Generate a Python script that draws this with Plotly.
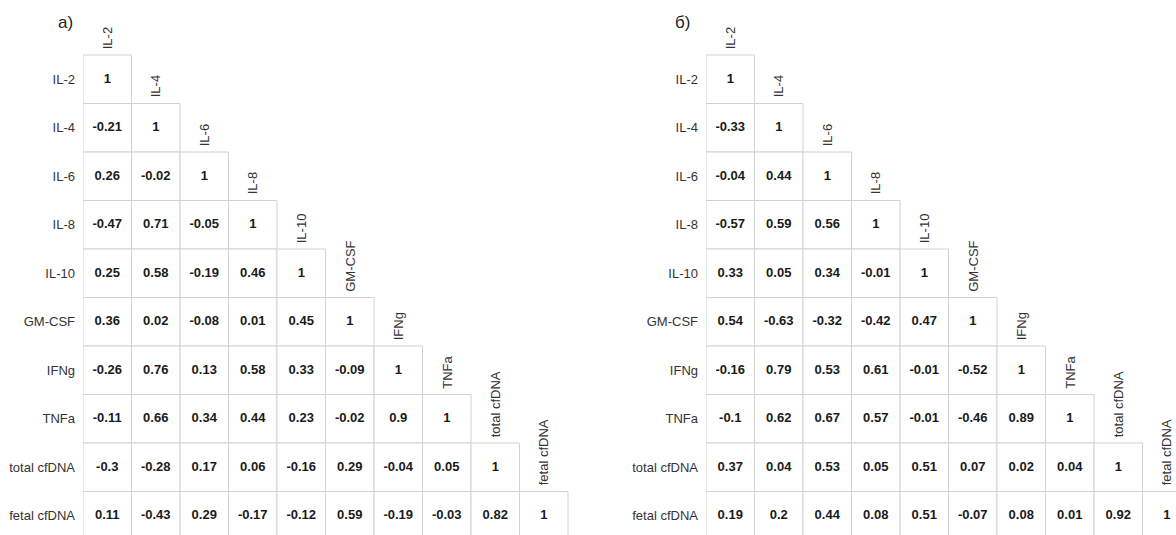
import plotly.graph_objects as go

labels = ["IL-2", "IL-4", "IL-6", "IL-8", "IL-10", "GM-CSF", "IFNg", "TNFa",
          "total cfDNA", "fetal cfDNA"]

corr_a = [
    [1],
    [-0.21, 1],
    [0.26, -0.02, 1],
    [-0.47, 0.71, -0.05, 1],
    [0.25, 0.58, -0.19, 0.46, 1],
    [0.36, 0.02, -0.08, 0.01, 0.45, 1],
    [-0.26, 0.76, 0.13, 0.58, 0.33, -0.09, 1],
    [-0.11, 0.66, 0.34, 0.44, 0.23, -0.02, 0.9, 1],
    [-0.3, -0.28, 0.17, 0.06, -0.16, 0.29, -0.04, 0.05, 1],
    [0.11, -0.43, 0.29, -0.17, -0.12, 0.59, -0.19, -0.03, 0.82, 1],
]

corr_b = [
    [1],
    [-0.33, 1],
    [-0.04, 0.44, 1],
    [-0.57, 0.59, 0.56, 1],
    [0.33, 0.05, 0.34, -0.01, 1],
    [0.54, -0.63, -0.32, -0.42, 0.47, 1],
    [-0.16, 0.79, 0.53, 0.61, -0.01, -0.52, 1],
    [-0.1, 0.62, 0.67, 0.57, -0.01, -0.46, 0.89, 1],
    [0.37, 0.04, 0.53, 0.05, 0.51, 0.07, 0.02, 0.04, 1],
    [0.19, 0.2, 0.44, 0.08, 0.51, -0.07, 0.08, 0.01, 0.92, 1],
]

panel_titles = ["а)", "б)"]

W, H = 1176, 535
CELL = 48.5
TOP = 55.0
LEFT_A = 83.0
LEFT_B = 706.0
FONT = "Liberation Sans, Arial, sans-serif"
GRID = "#d2d2d2"

fig = go.Figure()

def y_range():
    top = -0.5 - TOP / CELL
    bot = -0.5 + (H - TOP) / CELL
    return [bot, top]

def add_panel(corr, xa, ya, left_px, right_px, title, title_x):
    xname = "x" if xa == "xaxis" else "x2"
    yname = "y" if ya == "yaxis" else "y2"
    xs, ys, ts = [], [], []
    for i, row in enumerate(corr):
        for j, v in enumerate(row):
            xs.append(j)
            ys.append(i)
            ts.append(f"{v:g}")
            fig.add_shape(type="rect", xref=xname, yref=yname,
                          x0=j - 0.5, x1=j + 0.5, y0=i - 0.5, y1=i + 0.5,
                          line=dict(color=GRID, width=1), fillcolor="white",
                          layer="below")
    fig.add_trace(go.Scatter(x=xs, y=ys, text=ts, mode="text", xaxis=xname, yaxis=yname,
                             textfont=dict(family=FONT, size=13, color="#1a1a1a", weight="bold"),
                             hoverinfo="skip", showlegend=False, cliponaxis=False))
    for j, lab in enumerate(labels):
        fig.add_annotation(x=j, y=j - 0.5, xref=xname, yref=yname, text=lab,
                           textangle=-90, showarrow=False, xanchor="center",
                           yanchor="bottom", yshift=4,
                           font=dict(family=FONT, size=13, color="#333"))
    fig.add_annotation(x=title_x / W, y=1 - 22 / H, xref="paper", yref="paper",
                       text=title, showarrow=False, xanchor="center", yanchor="middle",
                       font=dict(family=FONT, size=17, color="#222"))
    x_right = -0.5 + (right_px - left_px) / CELL
    fig.update_layout(**{
        xa: dict(domain=[left_px / W, right_px / W], range=[-0.5, x_right],
                 showgrid=False, zeroline=False, showticklabels=False, ticks="",
                 anchor=yname, fixedrange=True),
        ya: dict(domain=[0, 1], range=y_range(), showgrid=False, zeroline=False,
                 tickmode="array", tickvals=list(range(len(labels))), ticktext=labels,
                 ticks="", ticklabelstandoff=7, anchor=xname,
                 tickfont=dict(family=FONT, size=13, color="#333"), fixedrange=True),
    })

add_panel(corr_a, "xaxis", "yaxis", LEFT_A, 610.0, panel_titles[0], 65)
add_panel(corr_b, "xaxis2", "yaxis2", LEFT_B, float(W), panel_titles[1], 682)

fig.update_layout(width=W, height=H, autosize=False,
                  margin=dict(l=0, r=0, t=0, b=0),
                  paper_bgcolor="white", plot_bgcolor="white")

fig.write_html("out.html",
               config={"displayModeBar": False, "staticPlot": True},
               post_script="document.documentElement.style.overflow='hidden';"
                           "document.body.style.margin='0';"
                           "document.body.style.overflow='hidden';")
